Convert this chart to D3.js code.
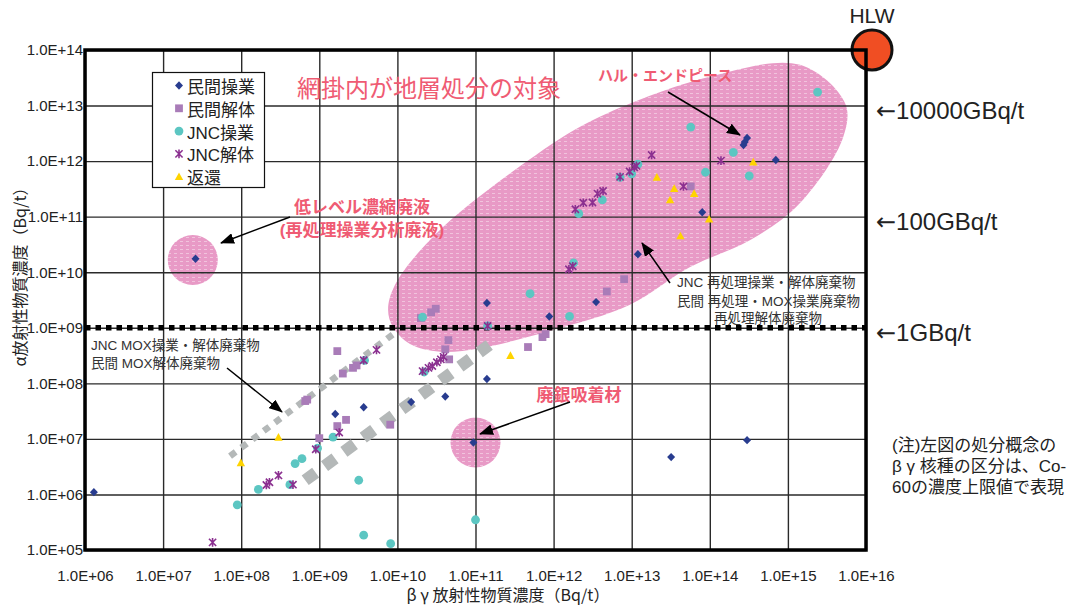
<!DOCTYPE html>
<html><head><meta charset="utf-8">
<script src="https://cdn.jsdelivr.net/npm/d3@7"></script>
<style>
body{margin:0;background:#fff;}
svg{display:block;font-family:"Liberation Sans","Noto Sans CJK JP",sans-serif;}
</style>
</head><body>
<svg id="chart" width="1075" height="608"></svg>
<script>
// ---------------- data ----------------
const seriesNames = ["民間操業", "民間解体", "JNC操業", "JNC解体", "返還"];

const minkanOps = [
  [1.3e6,1.1e6],[2.6e7,1.75e10],[9.9e8,1.0e7],[1.6e9,2.8e7],[3.7e9,3.7e7],[1.5e10,4.6e7],
  [4.1e10,5.8e7],[1.4e11,1.2e8],[1.4e11,2.8e9],[9.4e10,8.6e6],[8.8e11,1.6e9],[3.5e12,2.9e9],
  [1.2e13,2.1e10],[8.0e13,1.2e11],[2.7e14,1.95e12],[2.8e14,2.2e12],[3.0e14,2.6e12],
  [7.0e14,1.05e12],[3.2e13,4.7e6],[3.0e14,9.5e6]
];
const minkanDecom = [
  [6.6e8,4.8e7],[7.0e8,5.1e7],[1.0e9,1.03e7],[1.7e9,1.7e7],[2.2e9,2.2e7],[1.7e9,3.8e8],
  [2.0e9,1.5e8],[2.7e9,1.9e8],[3.0e9,2.1e8],[8.1e9,1.8e7],[2.0e10,1.5e9],[2.7e10,1.9e9],
  [3.1e10,2.2e9],[4.5e10,6.0e8],[4.1e10,4.1e8],[4.6e10,2.7e8],[4.7e11,4.5e8],[7.2e11,6.8e8],
  [7.9e11,7.7e8],[4.8e12,4.5e9],[8.0e12,7.5e9],[5.7e13,3.5e11]
];
const jncOps = [
  [8.9e7,6.5e5],[1.66e8,1.23e6],[4.2e8,1.5e6],[4.9e8,3.6e6],[6.0e8,4.4e6],[9.5e8,6.8e6],
  [1.5e9,1.08e7],[3.2e9,1.8e6],[3.7e9,1.85e5],[8.2e9,1.3e5],[1.0e11,3.5e5],[3.8e9,2.6e8],
  [2.2e10,1.6e8],[2.1e10,1.55e9],[1.43e11,1.08e9],[5.0e11,4.1e9],[1.6e12,1.6e9],
  [1.8e12,1.47e10],[2.1e12,1.13e11],[4.2e12,2.0e11],[7.1e12,5.1e11],[1.0e13,5.9e11],
  [1.2e13,8.8e11],[5.7e13,4.1e12],[8.8e13,6.3e11],[2.0e14,1.44e12],[3.2e14,5.4e11],
  [2.4e15,1.75e13]
];
const jncDecom = [
  [4.3e7,1.37e5],[2.1e8,1.48e6],[2.3e8,1.66e6],[3.0e8,2.2e6],[4.6e8,1.5e6],[9.0e8,6.5e6],
  [1.8e9,1.3e7],[3.7e9,2.6e8],[5.4e9,4.0e8],[2.1e10,1.66e8],[2.5e10,1.9e8],[2.8e10,2.05e8],
  [3.2e10,2.4e8],[3.6e10,2.7e8],[3.9e10,3.0e8],[1.43e11,1.08e9],[1.57e12,1.13e10],
  [1.76e12,1.28e10],[1.9e12,1.36e11],[2.4e12,1.78e11],[3.15e12,1.8e11],[3.65e12,2.6e11],
  [4.3e12,2.9e11],[7.1e12,5.2e11],[9.4e12,6.5e11],[1.08e13,7.7e11],[1.15e13,8.2e11],
  [1.8e13,1.29e12],[4.6e13,3.5e11],[1.39e14,1.02e12]
];
const returned = [
  [9.9e7,3.7e6],[3.0e8,1.07e7],[2.8e11,3.15e8],[2.1e13,5.1e11],[3.5e13,3.2e11],
  [6.3e13,2.6e11],[3.1e13,2.0e11],[9.8e13,9.0e10],[4.2e13,4.5e10],[3.6e14,9.6e11]
];

const xTickValues = [1e6,1e7,1e8,1e9,1e10,1e11,1e12,1e13,1e14,1e15,1e16];
const xTickLabels = ["1.0E+06","1.0E+07","1.0E+08","1.0E+09","1.0E+10","1.0E+11","1.0E+12","1.0E+13","1.0E+14","1.0E+15","1.0E+16"];
const yTickValues = [1e5,1e6,1e7,1e8,1e9,1e10,1e11,1e12,1e13,1e14];
const yTickLabels = ["1.0E+05","1.0E+06","1.0E+07","1.0E+08","1.0E+09","1.0E+10","1.0E+11","1.0E+12","1.0E+13","1.0E+14"];

// reference levels and annotation regions (data space)
const limitLine = 1e9;
const mainRegionOutline = [
  [7.6e9,2.1e9],[9.3e9,5.9e9],[3.2e10,5.1e10],[4.6e11,1.0e12],[3.2e12,5.5e12],
  [1.0e14,3.3e13],[1.43e15,5.4e13],[5.4e15,1.1e13],[5.1e15,2.7e12],[1.43e15,1.76e11],
  [3.3e14,3.8e10],[5.6e13,1.24e10],[9.5e12,2.6e9],[9.8e11,9.1e8],[1.14e11,4.3e8],
  [3.5e10,3.7e8],[1.45e10,5.1e8],[8.8e9,1.03e9]
];
const lowLevelRegion = {cx: 2.4e7, cy: 1.66e10};
const silverRegion = {cx: 1.0e11, cy: 8.6e6};
const moxLineSmall = [[7.2e7,4.9e6],[9.3e9,8.1e8]];
const moxLineLarge = [[6.6e8,1.8e6],[1.5e11,4.9e8]];

// ---------------- chart ----------------
const svg = d3.select("#chart");
const L = 85, R = 866, T = 50, B = 550;
const x = d3.scaleLog().domain([1e6,1e16]).range([L,R]);
const y = d3.scaleLog().domain([1e5,1e14]).range([B,T]);

const defs = svg.append("defs");
const pat = defs.append("pattern").attr("id","pinkPat").attr("patternUnits","userSpaceOnUse")
  .attr("width",6).attr("height",4);
pat.append("rect").attr("width",6).attr("height",4).attr("fill","#E89AC6");
pat.append("rect").attr("x",0).attr("y",1).attr("width",3).attr("height",1).attr("fill","#F1C3DD");
defs.append("marker").attr("id","arr").attr("markerUnits","userSpaceOnUse")
  .attr("markerWidth",14).attr("markerHeight",11).attr("refX",13).attr("refY",5.5)
  .attr("orient","auto")
  .append("path").attr("d","M0,0 L14,5.5 L0,11 Z").attr("fill","#000");

// pink regions (behind grid)
const outline = d3.line().x(d=>x(d[0])).y(d=>y(d[1])).curve(d3.curveCatmullRomClosed.alpha(0.5));
svg.append("path").attr("d",outline(mainRegionOutline)).attr("fill","url(#pinkPat)");
svg.append("circle").attr("cx",x(lowLevelRegion.cx)).attr("cy",y(lowLevelRegion.cy)).attr("r",25).attr("fill","url(#pinkPat)");
svg.append("circle").attr("cx",x(silverRegion.cx)).attr("cy",y(silverRegion.cy)).attr("r",25).attr("fill","url(#pinkPat)");

// grid
const gx = svg.append("g").attr("transform",`translate(0,${B})`)
  .call(d3.axisBottom(x).tickValues(xTickValues).tickSize(-(B-T)).tickFormat(""));
const gy = svg.append("g").attr("transform",`translate(${L},0)`)
  .call(d3.axisLeft(y).tickValues(yTickValues).tickSize(-(R-L)).tickFormat(""));
[gx,gy].forEach(g=>{g.select(".domain").remove();g.selectAll("line").attr("stroke","#2a2a2a").attr("stroke-width",1.4);});

// tick labels
const lx = svg.append("g").attr("transform",`translate(0,${B})`)
  .call(d3.axisBottom(x).tickValues(xTickValues).tickSize(0).tickPadding(20)
    .tickFormat((d,i)=>xTickLabels[i]));
const ly = svg.append("g").attr("transform",`translate(${L-1},0)`)
  .call(d3.axisLeft(y).tickValues(yTickValues).tickSize(0).tickPadding(1)
    .tickFormat((d,i)=>yTickLabels[i]));
[lx,ly].forEach(g=>{g.select(".domain").remove();
  g.selectAll("text").attr("font-family","Liberation Sans, sans-serif").attr("font-size",15).attr("fill","#222");});

// MOX gray dashed bands
const lineGen = d3.line().x(d=>x(d[0])).y(d=>y(d[1]));
svg.append("path").attr("d",lineGen(moxLineSmall)).attr("stroke","#B4B8B8").attr("stroke-width",6.5)
  .attr("stroke-dasharray","7,7").attr("fill","none");
svg.append("path").attr("d",lineGen(moxLineLarge)).attr("stroke","#B4B8B8").attr("stroke-width",12)
  .attr("stroke-dasharray","13,11").attr("fill","none");

// 1 GBq/t dotted line
svg.append("line").attr("x1",L).attr("x2",R).attr("y1",y(limitLine)).attr("y2",y(limitLine))
  .attr("stroke","#000").attr("stroke-width",5.5).attr("stroke-dasharray","5.5,5");

// HLW circle
svg.append("circle").attr("cx",R+6).attr("cy",T).attr("r",20).attr("fill","#F04E23")
  .attr("stroke","#111").attr("stroke-width",3);

// frame
svg.append("rect").attr("x",L).attr("y",T).attr("width",R-L).attr("height",B-T)
  .attr("fill","none").attr("stroke","#000").attr("stroke-width",3.5);

// markers
const shapes = {
  diamond: "M0,-4.2L4,0L0,4.2L-4,0Z",
  square: "M-3.9,-3.9H3.9V3.9H-3.9Z",
  circle: d3.symbol(d3.symbolCircle, Math.PI*4.4*4.4)(),
  star: "M-3.6,-3.6L3.6,3.6M-3.6,3.6L3.6,-3.6M0,-4.3V4.3",
  triangle: "M0,-4.3L4.2,3.4H-4.2Z"
};
const styles = [
  {data:minkanOps, shape:"diamond", fill:"#283C8F"},
  {data:minkanDecom, shape:"square", fill:"#A97CB8"},
  {data:jncOps, shape:"circle", fill:"#5CC6C2"},
  {data:jncDecom, shape:"star", stroke:"#8B3090"},
  {data:returned, shape:"triangle", fill:"#FFD400"}
];
function drawMarker(sel, st){
  sel.append("path").attr("d",shapes[st.shape])
    .attr("fill",st.fill||"none")
    .attr("stroke",st.stroke||"none").attr("stroke-width",st.stroke?1.6:0);
}
styles.forEach(st=>{
  const g = svg.append("g");
  st.data.forEach(d=>{
    const m = g.append("g").attr("transform",`translate(${x(d[0])},${y(d[1])})`);
    drawMarker(m, st);
  });
});

// legend
const lg = svg.append("g");
lg.append("rect").attr("x",152.5).attr("y",72.5).attr("width",112).attr("height",115)
  .attr("fill","#fff").attr("stroke","#111").attr("stroke-width",1.2);
seriesNames.forEach((n,i)=>{
  const yy = 87 + i*22.8;
  const m = lg.append("g").attr("transform",`translate(179,${yy-1.5})`);
  drawMarker(m, styles[i]);
  lg.append("text").attr("x",187).attr("y",yy+6).attr("font-size",17).attr("fill","#222").text(n);
});

// annotation texts
const red = "#EF5B73";
svg.append("text").attr("x",297).attr("y",97).attr("font-size",24).attr("fill",red).text("網掛内が地層処分の対象");
svg.append("text").attr("x",598).attr("y",81).attr("font-size",15).attr("font-weight","bold").attr("fill",red).text("ハル・エンドピース");
svg.append("text").attr("x",362).attr("y",213).attr("text-anchor","middle").attr("font-size",17).attr("font-weight","bold").attr("fill",red).text("低レベル濃縮廃液");
svg.append("text").attr("x",362).attr("y",236).attr("text-anchor","middle").attr("font-size",17).attr("font-weight","bold").attr("fill",red).text("(再処理操業分析廃液)");
svg.append("text").attr("x",579).attr("y",401).attr("text-anchor","middle").attr("font-size",17).attr("font-weight","bold").attr("fill",red).text("廃銀吸着材");

const gray = "#333";
[["JNC 再処理操業・解体廃棄物",677,287,"start"],["民間 再処理・MOX操業廃棄物",677,306,"start"],["再処理解体廃棄物",768,323,"middle"],
 ["JNC MOX操業・解体廃棄物",91,350,"start"],["民間 MOX解体廃棄物",91,368,"start"]].forEach(t=>{
  svg.append("text").attr("x",t[1]).attr("y",t[2]).attr("text-anchor",t[3]).attr("font-size",13.5).attr("fill",gray).text(t[0]);
});

// arrows
[[668,92,740,135],[290,217,221,243],[670,283,642,243],[227,368,282,412],[570,402,480,434]].forEach(a=>{
  svg.append("line").attr("x1",a[0]).attr("y1",a[1]).attr("x2",a[2]).attr("y2",a[3])
    .attr("stroke","#000").attr("stroke-width",1.5).attr("marker-end","url(#arr)");
});

// right side labels
svg.append("text").attr("x",872).attr("y",23).attr("text-anchor","middle").attr("font-size",21).attr("fill","#222").text("HLW");
[["10000GBq/t",1e13],["100GBq/t",1e11],["1GBq/t",1e9]].forEach(t=>{
  const tx = svg.append("text").attr("x",876).attr("y",y(t[1])+13).attr("font-size",24).attr("fill","#222");
  tx.append("tspan").attr("font-family","DejaVu Sans").text("←");
  tx.append("tspan").text(t[0]);
});
["(注)左図の処分概念の","β γ 核種の区分は、Co-","60の濃度上限値で表現"].forEach((t,i)=>{
  svg.append("text").attr("x",892).attr("y",451+i*21)
    .attr("font-size",17).attr("fill","#222").text(t);
});

// axis titles
svg.append("text").attr("x",508).attr("y",601).attr("text-anchor","middle")
  .attr("font-family","Noto Sans CJK JP").attr("font-size",16).attr("fill","#222").text("β γ 放射性物質濃度（Bq/t）");
svg.append("text").attr("transform","translate(26,273) rotate(-90)").attr("text-anchor","middle")
  .attr("font-family","Noto Sans CJK JP").attr("font-size",16).attr("fill","#222").text("α放射性物質濃度（Bq/t）");
</script>
</body></html>
